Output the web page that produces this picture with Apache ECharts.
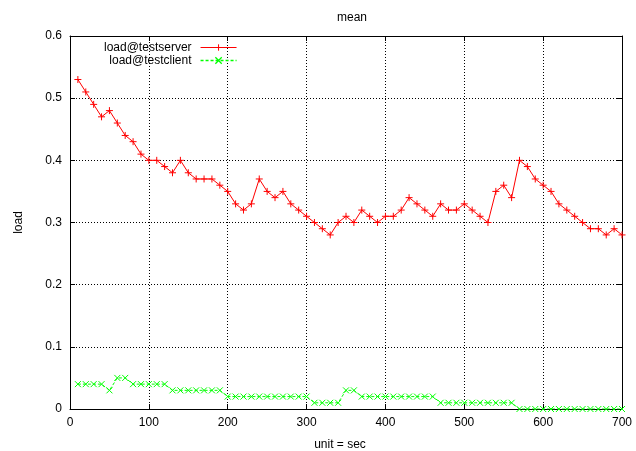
<!DOCTYPE html>
<html><head><meta charset="utf-8">
<script src="https://cdn.jsdelivr.net/npm/echarts@6/dist/echarts.min.js"></script>
<style>html,body{margin:0;padding:0;background:#fff}#c{width:636px;height:451px}</style>
</head><body><div id="c"></div>
<script>
var times = [10,20,30,40,50,60,70,80,90,100,110,120,130,140,150,160,170,180,190,200,210,220,230,240,250,260,270,280,290,300,310,320,330,340,350,360,370,380,390,400,410,420,430,440,450,460,470,480,490,500,510,520,530,540,550,560,570,580,590,600,610,620,630,640,650,660,670,680,690,700];
var serverLoad = [0.53,0.51,0.49,0.47,0.48,0.46,0.44,0.43,0.41,0.40,0.40,0.39,0.38,0.40,0.38,0.37,0.37,0.37,0.36,0.35,0.33,0.32,0.33,0.37,0.35,0.34,0.35,0.33,0.32,0.31,0.30,0.29,0.28,0.30,0.31,0.30,0.32,0.31,0.30,0.31,0.31,0.32,0.34,0.33,0.32,0.31,0.33,0.32,0.32,0.33,0.32,0.31,0.30,0.35,0.36,0.34,0.40,0.39,0.37,0.36,0.35,0.33,0.32,0.31,0.30,0.29,0.29,0.28,0.29,0.28];
var clientLoad = [0.04,0.04,0.04,0.04,0.03,0.05,0.05,0.04,0.04,0.04,0.04,0.04,0.03,0.03,0.03,0.03,0.03,0.03,0.03,0.02,0.02,0.02,0.02,0.02,0.02,0.02,0.02,0.02,0.02,0.02,0.01,0.01,0.01,0.01,0.03,0.03,0.02,0.02,0.02,0.02,0.02,0.02,0.02,0.02,0.02,0.02,0.01,0.01,0.01,0.01,0.01,0.01,0.01,0.01,0.01,0.01,0,0,0,0,0,0,0,0,0,0,0,0,0,0];
var seriesNames = ['load@testserver','load@testclient'];
var titleText = 'mean';
var xName = 'unit = sec';
var yName = 'load';

function pairs(ys){ return times.map(function(t,i){ return [t, ys[i]]; }); }
var FONT = 'Liberation Sans, Arial, sans-serif';
var plus = 'path://M0,5L10,5M5,0L5,10';
var cross = 'path://M0,0L10,10M10,0L0,10';
var chart = echarts.init(document.getElementById('c'), null, {renderer:'canvas'});
var axisCommon = {
  axisLine:{show:true, onZero:false, lineStyle:{color:'#000', width:1}},
  axisTick:{show:true, inside:true, length:5, lineStyle:{color:'#000'}},
  splitLine:{show:false}
};
chart.setOption({
  animation:false,
  backgroundColor:'#fff',
  title:{text:titleText, left:347, top:7, textAlign:'center',
    textStyle:{fontFamily:FONT, fontSize:12, fontWeight:'normal', color:'#000'}},
  grid:{left:70, right:14, top:36, bottom:42, containLabel:false, outerBoundsMode:'none'},
  legend:{
    orient:'vertical', align:'right', left:99, top:36, itemGap:0,
    itemWidth:36, itemHeight:8,
    lineStyle:{width:1},
    itemStyle:{borderWidth:1},
    textStyle:{fontFamily:FONT, fontSize:12, color:'#000', lineHeight:13, padding:[0,4,0,0]},
    data:[
      {name:seriesNames[0]},
      {name:seriesNames[1], lineStyle:{color:'#00ff00', width:1.3, type:[3,2]}, itemStyle:{color:'#00ff00', borderColor:'#00ff00', borderWidth:1.3}}
    ]
  },
  xAxis:[
    Object.assign({type:'value', min:0, max:700, interval:100, position:'bottom',
      name:xName, nameLocation:'middle', nameGap:30,
      nameTextStyle:{fontFamily:FONT, fontSize:12, color:'#000', padding:[0,12,0,0]},
      axisLabel:{fontFamily:FONT, fontSize:12, color:'#000', margin:8}},
      axisCommon, {splitLine:{show:true, lineStyle:{color:'#000', type:[1,2], width:1}}}),
    Object.assign({type:'value', min:0, max:700, interval:100, position:'top',
      axisLabel:{show:false}}, axisCommon)
  ],
  yAxis:[
    Object.assign({type:'value', min:0, max:0.6, interval:0.1, position:'left',
      name:yName, nameLocation:'middle', nameGap:45, nameRotate:90,
      nameTextStyle:{fontFamily:FONT, fontSize:12, color:'#000'},
      axisLabel:{fontFamily:FONT, fontSize:12, color:'#000', margin:8,
        formatter:function(v){ return String(Math.round(v*10)/10); }}},
      axisCommon, {splitLine:{show:true, lineStyle:{color:'#000', type:[1,2], width:1}}}),
    Object.assign({type:'value', min:0, max:0.6, interval:0.1, position:'right',
      axisLabel:{show:false}}, axisCommon)
  ],
  series:[
    {name:seriesNames[0], type:'line', data:pairs(serverLoad), symbol:plus, symbolSize:7,
      showAllSymbol:true,
      lineStyle:{color:'#ff0000', width:1}, itemStyle:{color:'#ff0000', borderColor:'#ff0000', borderWidth:1}},
    {name:seriesNames[1], type:'line', data:pairs(clientLoad), symbol:cross, symbolSize:6,
      showAllSymbol:true,
      lineStyle:{color:'#00ff00', width:1, type:[3,2]}, itemStyle:{color:'#00ff00', borderColor:'#00ff00', borderWidth:1}}
  ]
});
</script></body></html>
